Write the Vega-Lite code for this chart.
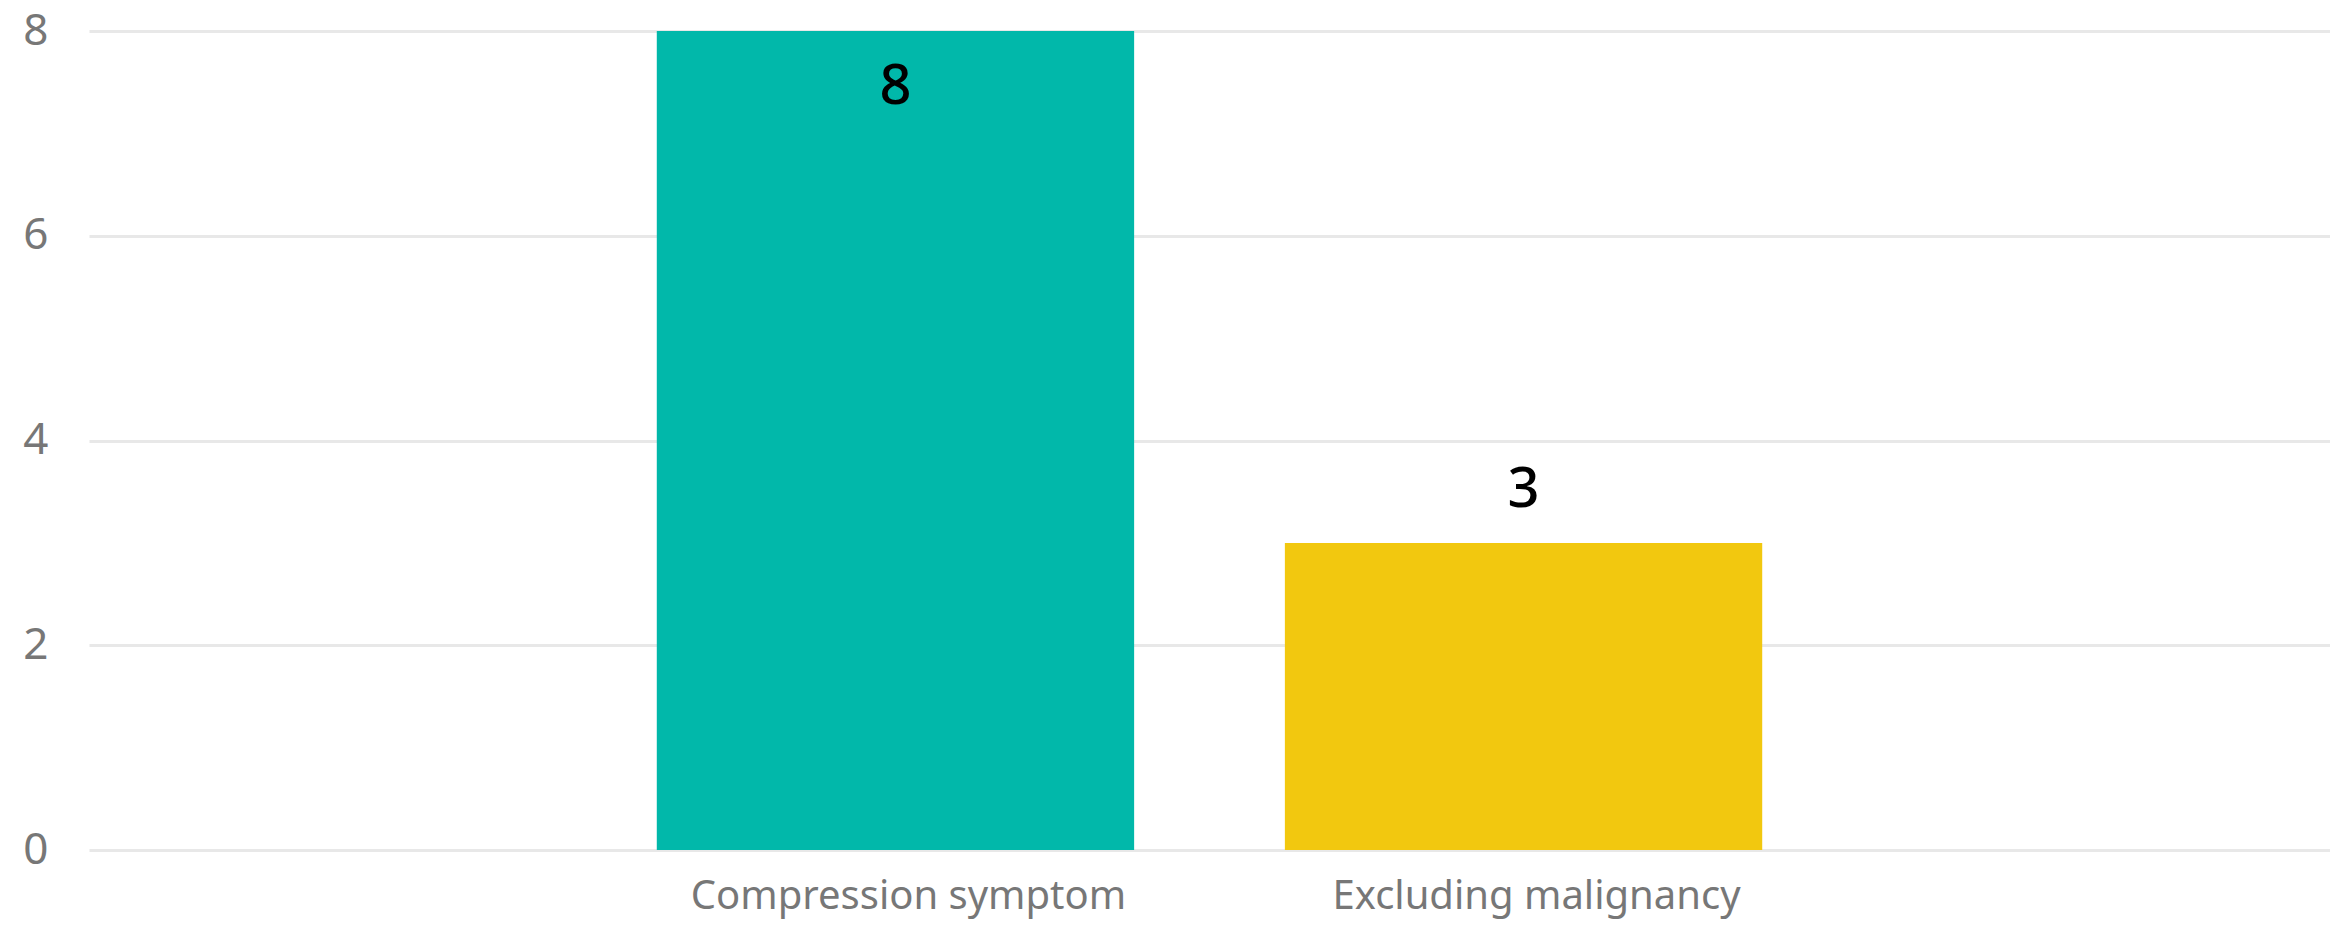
{
  "$schema": "https://vega.github.io/schema/vega-lite/v6.json",
  "width": 2241,
  "height": 819,
  "autosize": {"type": "none"},
  "padding": {"left": 89, "top": 31, "right": 0, "bottom": 77},
  "background": "white",
  "config": {"view": {"stroke": null}, "font": "Noto Sans"},
  "data": {
    "values": [
      {"category": "Compression symptom", "count": 8},
      {"category": "Excluding malignancy", "count": 3}
    ]
  },
  "encoding": {
    "x": {
      "field": "category",
      "type": "nominal",
      "sort": null,
      "scale": {"paddingInner": 0.24, "paddingOuter": 0.904, "align": 0.5},
      "axis": {
        "title": null,
        "labelAngle": 0,
        "labelFontSize": 40,
        "labelColor": "#777777",
        "labelPadding": 26,
        "labelOffset": 13,
        "labelLimit": 1000,
        "ticks": false,
        "domain": false,
        "grid": false
      }
    },
    "y": {
      "field": "count",
      "type": "quantitative",
      "scale": {"domain": [0, 8]},
      "axis": {
        "title": null,
        "values": [0, 2, 4, 6, 8],
        "labelFontSize": 44,
        "labelColor": "#777777",
        "labelPadding": 41,
        "ticks": false,
        "domain": false,
        "gridColor": "#E8E8E8",
        "gridWidth": 3
      }
    }
  },
  "layer": [
    {
      "mark": {"type": "bar"},
      "encoding": {
        "color": {
          "field": "category",
          "type": "nominal",
          "sort": null,
          "scale": {"range": ["#01B8AA", "#F2C80F"]},
          "legend": null
        }
      }
    },
    {
      "transform": [{"filter": "datum.count >= 6"}],
      "mark": {"type": "text", "baseline": "middle", "dy": 56, "fontSize": 56, "fontWeight": 500, "color": "black"},
      "encoding": {"text": {"field": "count", "type": "quantitative"}}
    },
    {
      "transform": [{"filter": "datum.count < 6"}],
      "mark": {"type": "text", "baseline": "middle", "dy": -53, "fontSize": 56, "fontWeight": 500, "color": "black"},
      "encoding": {"text": {"field": "count", "type": "quantitative"}}
    }
  ]
}
